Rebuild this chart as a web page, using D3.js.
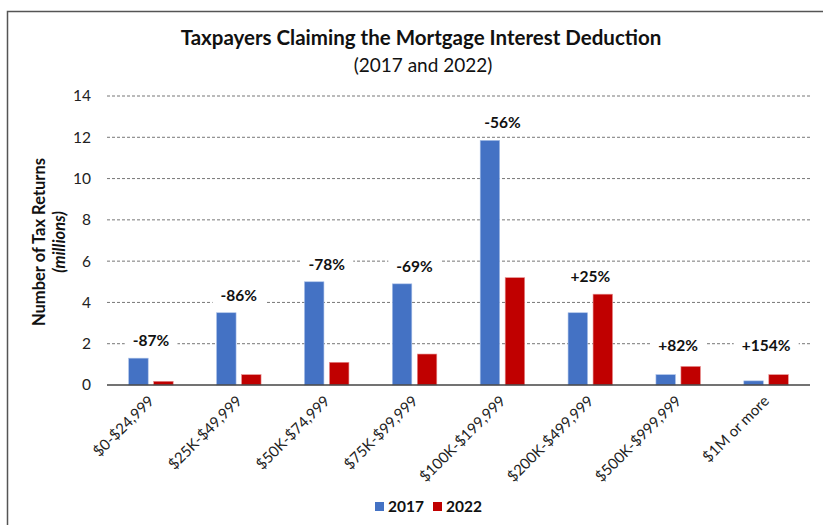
<!DOCTYPE html>
<html><head><meta charset="utf-8">
<script src="https://cdn.jsdelivr.net/npm/d3@7"></script>
<style>body{margin:0;background:#fff;} svg{display:block;font-family:Lato,"Open Sans",sans-serif;}</style>
</head><body>
<svg id="c" width="823" height="525"></svg>
<script>
const categories = ["$0-$24,999","$25K-$49,999","$50K-$74,999","$75K-$99,999","$100K-$199,999","$200K-$499,999","$500K-$999,999","$1M or more"];
const values2017 = [1.3, 3.5, 5.0, 4.9, 11.85, 3.5, 0.5, 0.2];
const values2022 = [0.18, 0.5, 1.1, 1.5, 5.2, 4.4, 0.9, 0.5];
const changeLabels = ["-87%","-86%","-78%","-69%","-56%","+25%","+82%","+154%"];
const yTicks = [0,2,4,6,8,10,12,14];
const seriesNames = ["2017","2022"];
const colors = ["#4472C4","#C00000"];

(function(){
const svg = d3.select("#c");
svg.append("rect").attr("x",7.5).attr("y",11.5).attr("width",840).attr("height",540)
  .attr("fill","none").attr("stroke","#555").attr("stroke-width",1.5);

const pl=107, pr=810, pt=96, pb=385;
const x = d3.scaleBand().domain(categories).range([pl,pr]);
const y = d3.scaleLinear().domain([0,14]).range([pb,pt]);

svg.append("g").selectAll("line").data(yTicks.filter(d=>d>0)).join("line")
  .attr("x1",pl).attr("x2",pr).attr("y1",d=>y(d)).attr("y2",d=>y(d))
  .attr("stroke","#777").attr("stroke-width",1).attr("stroke-dasharray","3,2");

const yAxis = d3.axisLeft(y).tickValues(yTicks).tickSize(0).tickPadding(16);
const yg = svg.append("g").attr("transform",`translate(${pl},0)`).call(yAxis);
yg.select(".domain").remove();
yg.selectAll("text").attr("font-size",15.5).attr("fill","#222").attr("font-family","Lato,sans-serif");

const barW = 19.5, gap = 5.5;
const data = categories.map((c,i)=>({c, v:[values2017[i], values2022[i]], lab:changeLabels[i]}));
const g = svg.append("g");
data.forEach(d=>{
  const cx = x(d.c) + x.bandwidth()/2;
  d.v.forEach((v,k)=>{
    const bx = k===0 ? cx - gap/2 - barW : cx + gap/2;
    g.append("rect").attr("x",bx).attr("y",y(v)).attr("width",barW).attr("height",y(0)-y(v))
      .attr("fill",colors[k]).attr("stroke", k===0?"#a9c0e8":"#e89090").attr("stroke-width",0.6);
  });
});

svg.append("line").attr("x1",pl).attr("x2",pr).attr("y1",pb).attr("y2",pb)
  .attr("stroke","#444").attr("stroke-width",1.5);

const lblG = svg.append("g");
data.forEach(d=>{
  const cx = x(d.c) + x.bandwidth()/2;
  const lv = Math.max(Math.max(...d.v)+0.85, 1.9);
  const bg = lblG.append("rect").attr("fill","#fff");
  const t = lblG.append("text").attr("x",cx).attr("y",y(lv)).attr("dy","0.35em")
    .attr("text-anchor","middle").attr("font-size",15.5).attr("font-weight","bold").attr("fill","#111").text(d.lab);
  const bb = t.node().getBBox();
  bg.attr("x",bb.x-8).attr("y",bb.y).attr("width",bb.width+16).attr("height",bb.height);
});

data.forEach(d=>{
  const cx = x(d.c) + x.bandwidth()/2;
  svg.append("text").attr("transform",`translate(${cx+4},${pb+17}) rotate(-45)`)
    .attr("text-anchor","end").attr("font-size",15).attr("fill","#222").text(d.c);
});

svg.append("text").attr("x",421).attr("y",45).attr("text-anchor","middle")
  .attr("font-size",20.5).attr("font-weight","bold").attr("fill","#111").text("Taxpayers Claiming the Mortgage Interest Deduction");
svg.append("text").attr("x",423).attr("y",72).attr("text-anchor","middle")
  .attr("font-size",19).attr("fill","#111").text("(2017 and 2022)");

svg.append("text").attr("transform","translate(45,242) rotate(-90)").attr("text-anchor","middle")
  .attr("font-size",16.5).attr("font-weight","bold").attr("fill","#111").text("Number of Tax Returns");
svg.append("text").attr("transform","translate(65,242) rotate(-90)").attr("text-anchor","middle")
  .attr("font-size",16.5).attr("font-weight","bold").attr("font-style","italic").attr("fill","#111").text("(millions)");

const lg = svg.append("g");
const lx = [375, 433];
seriesNames.forEach((s,k)=>{
  lg.append("rect").attr("x",lx[k]).attr("y",502).attr("width",9).attr("height",9).attr("fill",colors[k]);
  lg.append("text").attr("x",lx[k]+13).attr("y",506.5).attr("dy","0.35em").attr("font-size",15.5)
    .attr("font-weight","bold").attr("fill","#111").text(s);
});
})();
</script>
</body></html>
